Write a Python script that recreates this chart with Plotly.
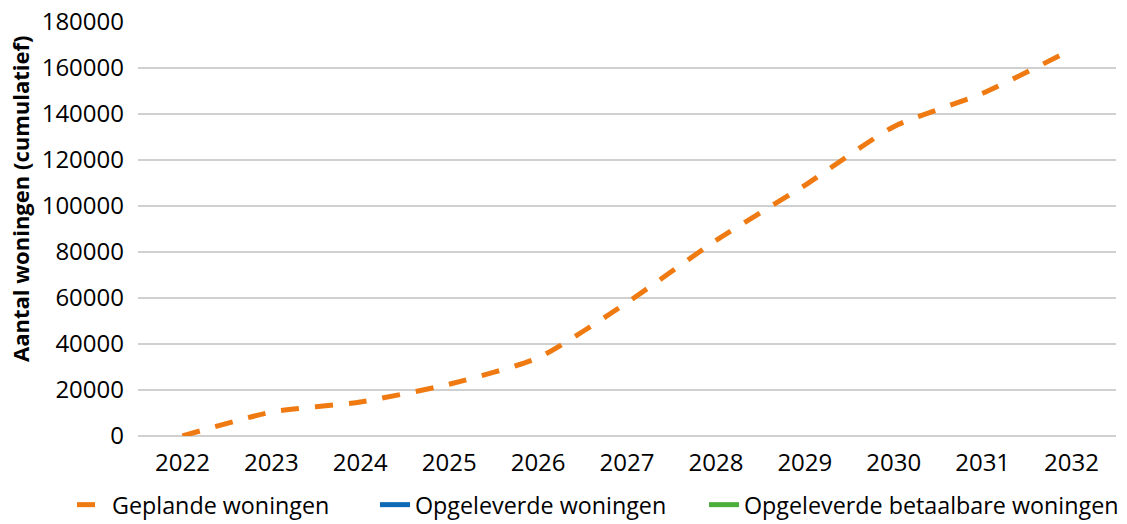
import plotly.graph_objects as go

years = ["2022", "2023", "2024", "2025", "2026", "2027", "2028", "2029", "2030", "2031", "2032"]
gepland = [0, 10400, 14800, 22500, 34000, 58000, 85000, 109000, 134500, 149000, 168000]
opgeleverd = [None] * len(years)
opgeleverd_betaalbaar = [None] * len(years)
y_title = "Aantal woningen (cumulatief)"

font_family = "Open Sans, Noto Sans, sans-serif"
W, H = 1127, 524
ML, MR, MT, MB = 138, 11, 22, 88
plot_h = H - MT - MB

fig = go.Figure()
fig.add_trace(go.Scatter(
    x=years, y=gepland, name="Geplande woningen", mode="lines", legend="legend",
    line=dict(color="#F07A12", width=5, dash="18px,16px", shape="spline", smoothing=0.6),
))
fig.add_trace(go.Scatter(
    x=years, y=opgeleverd, name="Opgeleverde woningen", mode="lines", legend="legend2",
    line=dict(color="#0E6AB4", width=5),
))
fig.add_trace(go.Scatter(
    x=years, y=opgeleverd_betaalbaar, name="Opgeleverde betaalbare woningen", mode="lines",
    legend="legend3",
    line=dict(color="#4CAF3C", width=5),
))

legend_y = (H - MB - 505) / plot_h


def leg(px):
    return dict(orientation="h", x=px / W, xref="container", xanchor="left",
                y=legend_y, yref="paper", yanchor="middle",
                font=dict(size=23.3), itemwidth=30, bgcolor="rgba(0,0,0,0)")


fig.update_layout(
    width=W, height=H,
    margin=dict(l=ML, r=MR, t=MT, b=MB, autoexpand=False),
    paper_bgcolor="white", plot_bgcolor="white",
    font=dict(family=font_family, size=22, color="#000000"),
    showlegend=True,
    legend=leg(72), legend2=leg(375), legend3=leg(704),
    annotations=[dict(
        text="<b>" + y_title + "</b>", textangle=-90,
        xref="paper", yref="paper", x=-0.1207, y=0.5725,
        xanchor="center", yanchor="middle", showarrow=False,
        font=dict(size=22, color="#000000"),
    )],
)
fig.update_xaxes(
    type="category", range=[-0.5, 10.5], showgrid=False, showline=False,
    ticks="", tickfont=dict(size=24), zeroline=False, ticklabelstandoff=10,
)
fig.update_yaxes(
    range=[0, 180000], dtick=20000, showgrid=True, gridcolor="#D0D0D0", gridwidth=1.5,
    zeroline=True, zerolinecolor="#D0D0D0", zerolinewidth=1.5,
    showline=False, ticks="", tickformat="d", tickfont=dict(size=24),
    ticklabelstandoff=13,
)

fig.write_html("out.html")
